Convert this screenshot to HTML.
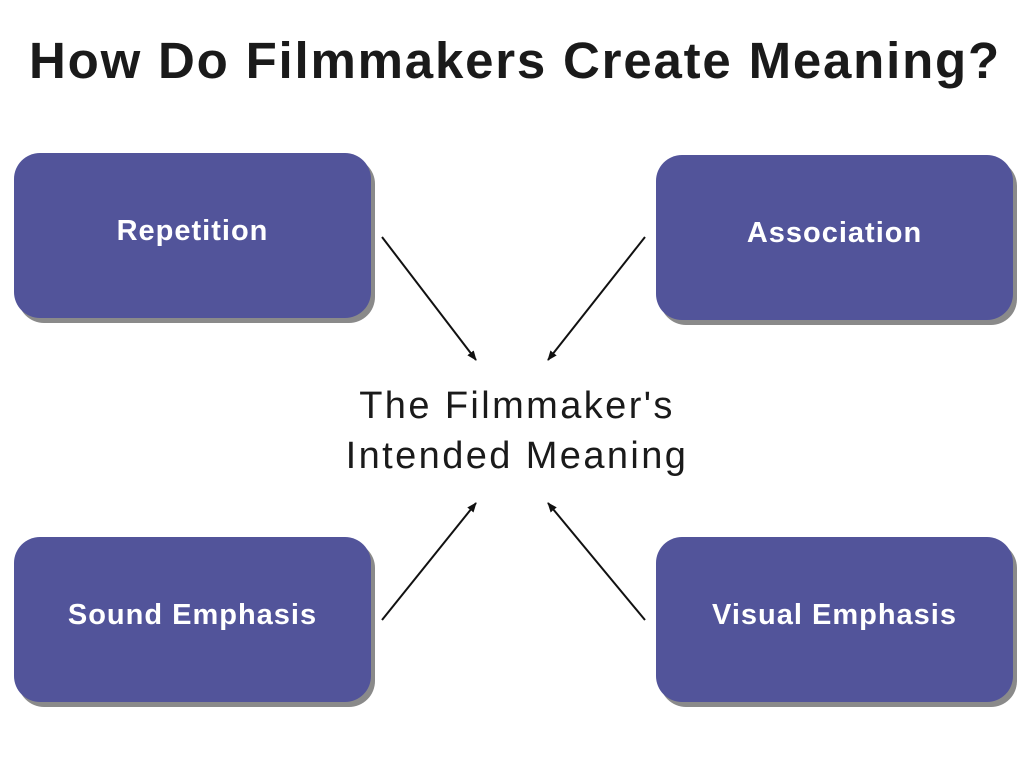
<!DOCTYPE html>
<html><head><style>
body{margin:0;width:1024px;height:768px;background:#fff;position:relative;overflow:hidden;font-family:"Liberation Sans",sans-serif}
.t{position:absolute;left:0;width:1030px;top:31px;text-align:center;font-weight:bold;font-size:51px;color:#1a1a1a;letter-spacing:1.8px}
.b{position:absolute;width:357px;height:165px;background:#52549a;border-radius:26px;box-shadow:4px 5px 0 #8a8a8a;color:#fff;font-weight:bold;font-size:29px;letter-spacing:1px;display:flex;justify-content:center;box-sizing:border-box}
.c{position:absolute;left:290px;width:454px;top:381px;text-align:center;font-size:38px;line-height:50px;color:#1a1a1a;letter-spacing:2.4px}
</style></head><body>
<div class="t">How Do Filmmakers Create Meaning?</div>
<div class="b" style="left:14px;top:153px;padding-top:62px">Repetition</div>
<div class="b" style="left:656px;top:155px;padding-top:62px">Association</div>
<div class="b" style="left:14px;top:537px;padding-top:62px">Sound Emphasis</div>
<div class="b" style="left:656px;top:537px;padding-top:62px">Visual Emphasis</div>
<div class="c">The Filmmaker's<br>Intended Meaning</div>
<svg width="1024" height="768" style="position:absolute;left:0;top:0">
<defs><marker id="a" markerWidth="10" markerHeight="8" refX="9" refY="4" orient="auto" markerUnits="userSpaceOnUse"><path d="M0,0 L10,4 L0,8 Z" fill="#111"/></marker></defs>
<g stroke="#111" stroke-width="2" marker-end="url(#a)">
<line x1="382" y1="237" x2="476" y2="360"/>
<line x1="645" y1="237" x2="548" y2="360"/>
<line x1="382" y1="620" x2="476" y2="503"/>
<line x1="645" y1="620" x2="548" y2="503"/>
</g></svg>
</body></html>
